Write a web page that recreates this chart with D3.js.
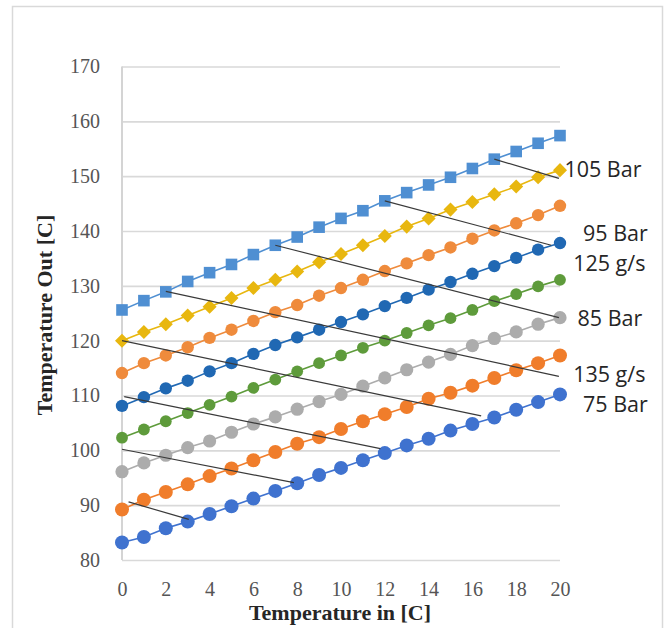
<!DOCTYPE html>
<html>
<head>
<meta charset="utf-8">
<script src="https://cdn.jsdelivr.net/npm/d3@7"></script>
<style>
  body { margin: 0; background: #ffffff; }
  svg { display: block; }
</style>
</head>
<body>
<div id="chart"></div>
<script>
// ---------- data ----------
const xValues = [0,1,2,3,4,5,6,7,8,9,10,11,12,13,14,15,16,17,18,19,20];
const xTicks = [0,2,4,6,8,10,12,14,16,18,20];
const yTicks = [80,90,100,110,120,130,140,150,160,170];

const seriesSquares   = [125.6,127.3,128.9,130.8,132.4,133.9,135.7,137.4,138.9,140.7,142.3,143.7,145.5,147.0,148.4,149.8,151.4,153.1,154.5,156.0,157.4];
const seriesDiamonds  = [120.0,121.6,123.0,124.6,126.2,127.8,129.6,131.1,132.6,134.3,135.8,137.4,139.1,140.8,142.3,143.9,145.3,146.7,148.1,149.8,151.1];
const seriesLtOrange  = [114.1,115.9,117.3,118.8,120.5,122.0,123.6,125.2,126.5,128.2,129.6,131.1,132.7,134.1,135.6,137.0,138.6,140.1,141.4,142.9,144.6];
const seriesDkBlue    = [108.1,109.7,111.3,112.7,114.4,115.9,117.6,119.2,120.6,122.0,123.4,124.8,126.3,127.8,129.3,130.7,132.2,133.6,135.1,136.6,137.8];
const seriesGreen     = [102.3,103.8,105.3,106.8,108.3,109.8,111.4,112.9,114.4,115.9,117.3,118.7,120.0,121.4,122.8,124.1,125.6,127.2,128.5,129.9,131.1];
const seriesGrey      = [96.1,97.7,99.1,100.5,101.7,103.3,104.8,106.1,107.5,108.9,110.2,111.7,113.2,114.7,116.1,117.5,119.1,120.4,121.6,123.0,124.2];
const seriesOrange    = [89.2,91.0,92.4,93.8,95.3,96.7,98.2,99.7,101.2,102.4,103.9,105.3,106.6,107.9,109.4,110.5,111.8,113.2,114.6,115.9,117.3];
const seriesBlue      = [83.2,84.2,85.8,87.0,88.4,89.8,91.2,92.6,94.0,95.5,96.8,98.2,99.5,100.9,102.1,103.6,104.8,106.0,107.4,108.8,110.2];

const seriesNames   = ["squares","diamonds","ltOrange","dkBlue","green","grey","orange","blue"];
const seriesValues  = [seriesSquares, seriesDiamonds, seriesLtOrange, seriesDkBlue, seriesGreen, seriesGrey, seriesOrange, seriesBlue];

// iso lines: start/end points in data units
const isoX1 = [17, 12, 7, 2, 0, 0.1, 0, 0.3];
const isoY1 = [153.1, 145.5, 137.4, 129.0, 120.0, 109.8, 100.2, 90.6];
const isoX2 = [19.95, 19.6, 19.95, 19.95, 16.4, 11.8, 7.85, 3.05];
const isoY2 = [149.6, 137.4, 124.2, 113.5, 106.3, 100.3, 94.1, 87.4];

// annotation labels (data coordinates)
const labelTexts = ["105 Bar","95 Bar","125 g/s","85 Bar","135 g/s","75 Bar"];
const labelX     = [20.2, 21.05, 20.6, 20.8, 20.6, 21.05];
const labelY     = [151.3, 139.6, 134.1, 124.0, 113.9, 108.4];

// ---------- styles ----------
const colors  = ["#4f8fd2","#e8b70f","#ef8b3c","#2068b3","#5e9b3b","#acacac","#f07d2b","#3f72cf"];
const shapes  = ["square","diamond","circle","circle","circle","circle","circle","circle"];
const radius  = [5.8, 5.6, 6.2, 6.2, 5.9, 6.6, 7, 7];

const W = 668, H = 628;
const svg = d3.select("#chart").append("svg").attr("width", W).attr("height", H);
svg.append("rect").attr("width", W).attr("height", H).attr("fill", "#fff");
svg.append("rect").attr("x", 12.5).attr("y", 6.5).attr("width", 650).attr("height", 640)
   .attr("fill", "none").attr("stroke", "#d9d9d9").attr("stroke-width", 1.5);

const x = d3.scaleLinear().domain([0, 20]).range([122, 560]);
const y = d3.scaleLinear().domain([80, 170]).range([560, 66.5]);

// gridlines + y labels
const yAxis = svg.append("g").attr("transform", "translate(122,0)")
  .call(d3.axisLeft(y).tickValues(yTicks).tickSize(-(560 - 122)).tickPadding(22).tickFormat(d3.format("d")));
yAxis.select(".domain").remove();
yAxis.selectAll(".tick line").attr("stroke", "#d9d9d9").attr("stroke-width", 1.6);
yAxis.selectAll(".tick text").attr("fill", "#555555")
  .style("font-family", "'Liberation Serif', 'Times New Roman', serif").style("font-size", "20px");

// y axis vertical line
svg.append("line").attr("x1", 122).attr("x2", 122).attr("y1", y(170)).attr("y2", y(80))
  .attr("stroke", "#d4d4d4").attr("stroke-width", 2);

// x labels
const xAxis = svg.append("g").attr("transform", "translate(0," + y(80) + ")")
  .call(d3.axisBottom(x).tickValues(xTicks).tickSize(0).tickPadding(0).tickFormat(d3.format("d")));
xAxis.select(".domain").remove();
xAxis.selectAll(".tick text").attr("fill", "#555555").attr("y", 29).attr("dy", "0.35em")
  .style("font-family", "'Liberation Serif', 'Times New Roman', serif").style("font-size", "20px");

// series lines and markers
const line = d3.line().x((d, i) => x(xValues[i])).y(d => y(d));
seriesValues.forEach((vals, s) => {
  const g = svg.append("g").attr("class", "series-" + seriesNames[s]);
  g.append("path").datum(vals).attr("d", line).attr("fill", "none")
    .attr("stroke", colors[s]).attr("stroke-width", 1.6);
  const r = radius[s];
  if (shapes[s] === "circle") {
    g.selectAll("circle").data(vals).join("circle")
      .attr("cx", (d, i) => x(xValues[i])).attr("cy", d => y(d)).attr("r", r)
      .attr("fill", colors[s]);
  } else if (shapes[s] === "square") {
    g.selectAll("rect").data(vals).join("rect")
      .attr("x", (d, i) => x(xValues[i]) - r).attr("y", d => y(d) - r)
      .attr("width", 2 * r).attr("height", 2 * r).attr("fill", colors[s]);
  } else {
    g.selectAll("path.m").data(vals).join("path").attr("class", "m")
      .attr("d", d3.symbol(d3.symbolDiamond2, 4 * r * r))
      .attr("transform", (d, i) => "translate(" + x(xValues[i]) + "," + y(d) + ")")
      .attr("fill", colors[s]);
  }
});

// iso lines
svg.append("g").selectAll("line").data(isoX1).join("line")
  .attr("x1", (d, i) => x(isoX1[i])).attr("y1", (d, i) => y(isoY1[i]))
  .attr("x2", (d, i) => x(isoX2[i])).attr("y2", (d, i) => y(isoY2[i]))
  .attr("stroke", "#3a3a3a").attr("stroke-width", 1.2);

// annotation labels
svg.append("g").selectAll("text").data(labelTexts).join("text")
  .attr("x", (d, i) => x(labelX[i])).attr("y", (d, i) => y(labelY[i]))
  .attr("dy", "0.35em").attr("fill", "#262626")
  .style("font-family", "'Open Sans', sans-serif").style("font-size", "21.5px")
  .text(d => d);

// axis titles
svg.append("text").attr("x", 340).attr("y", 612).attr("dy", "0.35em")
  .attr("text-anchor", "middle").attr("fill", "#262626")
  .style("font-family", "'Liberation Serif', 'Times New Roman', serif")
  .style("font-size", "22px").style("font-weight", "bold")
  .text("Temperature in [C]");
svg.append("text").attr("transform", "translate(44,315) rotate(-90)").attr("dy", "0.35em")
  .attr("text-anchor", "middle").attr("fill", "#262626")
  .style("font-family", "'Liberation Serif', 'Times New Roman', serif")
  .style("font-size", "22px").style("font-weight", "bold")
  .text("Temperature Out [C]");
</script>
</body>
</html>
